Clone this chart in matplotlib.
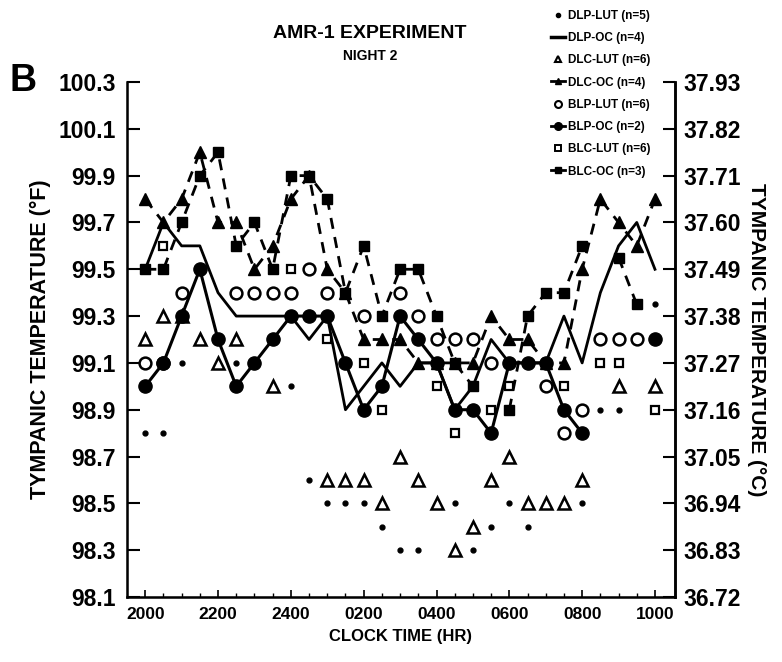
import numpy as np
import matplotlib
matplotlib.use('Agg')
import matplotlib.pyplot as plt
from matplotlib.lines import Line2D

nan = np.nan

# half-hourly readings, 2000 h to 1000 h
times = ['2000', '2030', '2100', '2130', '2200', '2230', '2300', '2330', '2400', '0030',
         '0100', '0130', '0200', '0230', '0300', '0330', '0400', '0430', '0500', '0530',
         '0600', '0630', '0700', '0730', '0800', '0830', '0900', '0930', '1000']
tick_labels = ['2000', '2200', '2400', '0200', '0400', '0600', '0800', '1000']

f_ticks = [100.3, 100.1, 99.9, 99.7, 99.5, 99.3, 99.1, 98.9, 98.7, 98.5, 98.3, 98.1]
c_ticks = [37.93, 37.82, 37.71, 37.60, 37.49, 37.38, 37.27, 37.16, 37.05, 36.94, 36.83, 36.72]

dlp_lut = [98.8, 98.8, 99.1, nan, nan, 99.1, nan, nan, 99.0, 98.6, 98.5, 98.5, 98.5, 98.4, 98.3,
           98.3, nan, 98.5, 98.3, 98.4, 98.5, 98.4, 98.5, nan, 98.5, 98.9, 98.9, nan, 99.35]
dlp_oc = [99.5, 99.7, 99.6, 99.6, 99.4, 99.3, 99.3, 99.3, 99.3, 99.2, 99.3, 98.9, 99.0, 99.1, 99.0,
          99.1, 99.1, 98.9, 99.0, 99.2, 99.1, 99.1, 99.1, 99.3, 99.1, 99.4, 99.6, 99.7, 99.5]
dlc_lut = [99.2, 99.3, 99.3, 99.2, 99.1, 99.2, nan, 99.0, nan, nan, 98.6, 98.6, 98.6, 98.5, 98.7,
           98.6, 98.5, 98.3, 98.4, 98.6, 98.7, 98.5, 98.5, 98.5, 98.6, nan, 99.0, nan, 99.0]
dlc_oc = [99.8, 99.7, 99.8, 100.0, 99.7, 99.7, 99.5, 99.6, 99.8, 99.9, 99.5, 99.4, 99.2, 99.2, 99.2,
          99.1, 99.1, 99.1, 99.1, 99.3, 99.2, 99.2, 99.1, 99.1, 99.5, 99.8, 99.7, 99.6, 99.8]
blp_lut = [99.1, 99.1, 99.4, nan, nan, 99.4, 99.4, 99.4, 99.4, 99.5, 99.4, nan, 99.3, nan, 99.4,
           99.3, 99.2, 99.2, 99.2, 99.1, nan, nan, 99.0, 98.8, 98.9, 99.2, 99.2, 99.2, nan]
blp_oc = [99.0, 99.1, 99.3, 99.5, 99.2, 99.0, 99.1, 99.2, 99.3, 99.3, 99.3, 99.1, 98.9, 99.0, 99.3,
          99.2, 99.1, 98.9, 98.9, 98.8, 99.1, 99.1, 99.1, 98.9, 98.8, nan, nan, nan, 99.2]
blc_lut = [nan, 99.6, nan, nan, nan, nan, nan, nan, 99.5, nan, 99.2, nan, 99.1, 98.9, nan,
           nan, 99.0, 98.8, nan, 98.9, 99.0, nan, nan, 99.0, nan, 99.1, 99.1, nan, 98.9]
blc_oc = [99.5, 99.5, 99.7, 99.9, 100.0, 99.6, 99.7, 99.5, 99.9, 99.9, 99.8, 99.4, 99.6, 99.3, 99.5,
          99.5, 99.3, 99.1, 99.0, nan, 98.9, 99.3, 99.4, 99.4, 99.6, nan, 99.55, 99.35, nan]

plt.rcParams['font.family'] = ['Liberation Sans', 'DejaVu Sans']
plt.rcParams['font.weight'] = 'bold'

fig = plt.figure(figsize=(7.82, 6.62), dpi=100)
ax = fig.add_axes([127 / 782, 1 - 597 / 662, 548 / 782, 515 / 662])

x = np.arange(len(times))
k = 'black'

ax.plot(x, dlp_lut, ls='none', marker='o', ms=3.5, color=k)
ax.plot(x, dlp_oc, ls='-', lw=2.0, color=k)
ax.plot(x, dlc_lut, ls='none', marker='^', ms=8, mfc='white', mec=k, mew=1.8)
ax.plot(x, dlc_oc, ls=(0, (4, 3)), lw=2.0, marker='^', ms=8, color=k)
ax.plot(x, blp_lut, ls='none', marker='o', ms=8.5, mfc='white', mec=k, mew=1.8)
ax.plot(x, blp_oc, ls='-', lw=2.2, marker='o', ms=9.5, color=k)
ax.plot(x, blc_lut, ls='none', marker='s', ms=5.5, mfc='white', mec=k, mew=1.6)
ax.plot(x, blc_oc, ls=(0, (4, 3)), lw=2.0, marker='s', ms=6.5, color=k)

ax.set_xlim(-1.0, 29.1)
ax.set_ylim(98.1, 100.3)
ax.set_yticks(f_ticks)
ax.set_yticklabels([f'{v:.1f}' for v in f_ticks], fontsize=16.5)
ax.set_xticks(x[::4])
ax.set_xticklabels(tick_labels, fontsize=12.5)
ax.set_xticks(x, minor=True)
ax.tick_params(axis='y', direction='in', length=9, width=1.5, pad=8)
ax.tick_params(axis='x', which='major', direction='in', length=5, width=1.2, pad=7)
ax.tick_params(axis='x', which='minor', direction='in', length=3, width=1.0)
ax.spines['top'].set_visible(False)
for s in ['left', 'bottom', 'right']:
    ax.spines[s].set_linewidth(1.8)

ax2 = ax.twinx()
ax2.set_ylim(36.72, 37.93)
ax2.set_yticks(c_ticks)
ax2.set_yticklabels([f'{v:.2f}' for v in c_ticks], fontsize=16.5)
ax2.tick_params(axis='y', direction='in', length=9, width=1.5, pad=6)
ax2.spines['top'].set_visible(False)
ax2.spines['right'].set_linewidth(1.8)

ax.set_xlabel('CLOCK TIME (HR)', fontsize=12, fontweight='bold', labelpad=5)
ax.set_ylabel('TYMPANIC TEMPERATURE (\u00b0F)', fontsize=15.5, fontweight='bold', labelpad=5)
ax2.set_ylabel('TYMPANIC TEMPERATURE (\u00b0C)', fontsize=15, fontweight='bold',
               rotation=-90, labelpad=18)

fig.text(370 / 782, 1 - 33 / 662, 'AMR-1 EXPERIMENT', ha='center', va='center',
         fontsize=14, fontweight='bold')
fig.text(370 / 782, 1 - 56 / 662, 'NIGHT 2', ha='center', va='center',
         fontsize=10, fontweight='bold')
fig.text(23 / 782, 1 - 81 / 662, 'B', ha='center', va='center', fontsize=27, fontweight='bold')

handles = [
    Line2D([], [], ls='none', marker='o', ms=3, color=k),
    Line2D([], [], ls='-', lw=2.5, color=k),
    Line2D([], [], ls='none', marker='^', ms=5, mfc='white', mec=k, mew=1.5),
    Line2D([], [], ls='-', lw=2, marker='^', ms=5, color=k),
    Line2D([], [], ls='none', marker='o', ms=5, mfc='white', mec=k, mew=1.5),
    Line2D([], [], ls='-', lw=2, marker='o', ms=5.5, color=k),
    Line2D([], [], ls='none', marker='s', ms=4, mfc='white', mec=k, mew=1.4),
    Line2D([], [], ls='-', lw=2, marker='s', ms=4.5, color=k),
]
labels = ['DLP-LUT (n=5)', 'DLP-OC (n=4)', 'DLC-LUT (n=6)', 'DLC-OC (n=4)',
          'BLP-LUT (n=6)', 'BLP-OC (n=2)', 'BLC-LUT (n=6)', 'BLC-OC (n=3)']
fig.legend(handles, labels, loc='upper left', bbox_to_anchor=(546 / 782, 1 - 5 / 662),
           frameon=False, handlelength=1.2, handletextpad=0.3,
           labelspacing=0.87, borderaxespad=0, prop={'weight': 'bold', 'size': 8.5})

fig.savefig('out.png', dpi=100)
